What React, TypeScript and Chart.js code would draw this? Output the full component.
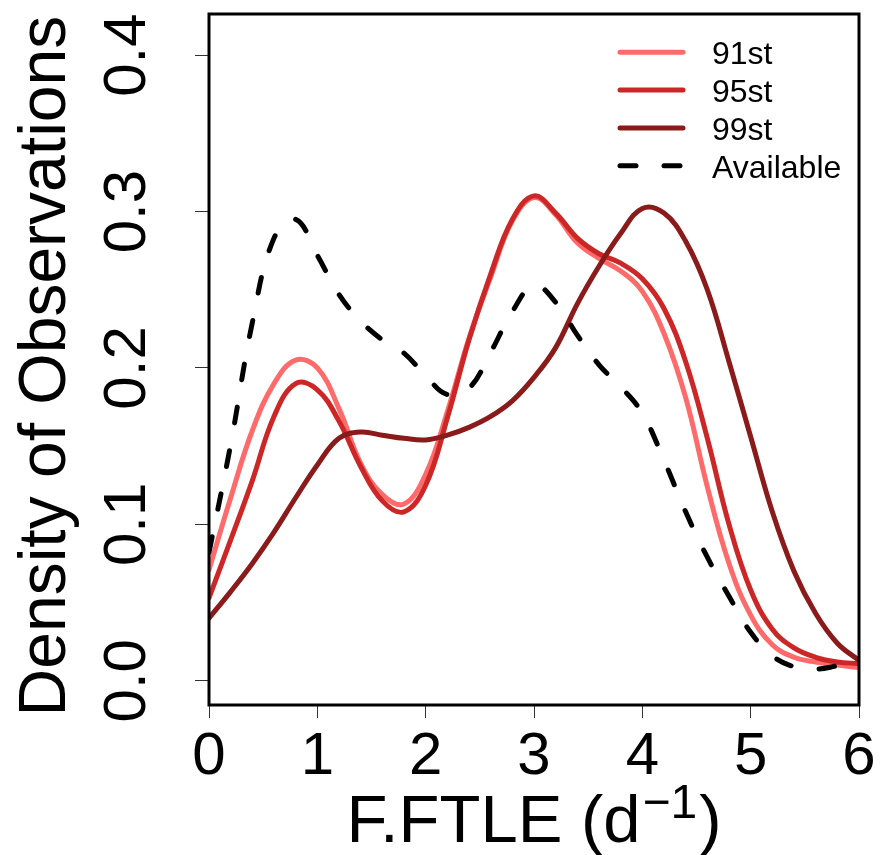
import { useEffect, useRef } from "react";
import { Chart, registerables } from "chart.js";

Chart.register(...registerables);

const FONT = '"Liberation Sans", Arial, Helvetica, sans-serif';

const xValues = [0, 0.2, 0.4, 0.6, 0.8, 1.0, 1.2, 1.4, 1.6, 1.8, 2.0, 2.2, 2.4, 2.6, 2.8, 3.0, 3.2, 3.4, 3.6, 3.8, 4.0, 4.2, 4.4, 4.6, 4.8, 5.0, 5.2, 5.4, 5.6, 5.8, 6.0];

const seriesLabels = ["91st", "95st", "99st", "Available"];

const p91 = [0.071, 0.117, 0.16, 0.19, 0.205, 0.2, 0.174, 0.139, 0.119, 0.113, 0.132, 0.172, 0.219, 0.258, 0.294, 0.309, 0.298, 0.28, 0.27, 0.262, 0.249, 0.222, 0.181, 0.124, 0.075, 0.042, 0.023, 0.015, 0.012, 0.01, 0.0085];
const p95 = [0.053, 0.09, 0.128, 0.169, 0.19, 0.186, 0.166, 0.137, 0.115, 0.108, 0.125, 0.168, 0.218, 0.26, 0.295, 0.31, 0.299, 0.283, 0.273, 0.267, 0.257, 0.238, 0.204, 0.155, 0.1, 0.058, 0.033, 0.021, 0.015, 0.012, 0.011];
const p99 = [0.04, 0.057, 0.075, 0.095, 0.117, 0.138, 0.155, 0.159, 0.157, 0.155, 0.154, 0.157, 0.162, 0.169, 0.179, 0.194, 0.213, 0.241, 0.265, 0.286, 0.302, 0.299, 0.281, 0.25, 0.204, 0.156, 0.108, 0.07, 0.043, 0.024, 0.013];
const available = [0.082, 0.151, 0.229, 0.283, 0.295, 0.272, 0.247, 0.23, 0.218, 0.2095, 0.195, 0.183, 0.187, 0.21, 0.236, 0.253, 0.242, 0.221, 0.202, 0.188, 0.171, 0.141, 0.108, 0.079, 0.054, 0.031, 0.016, 0.009, 0.0075, 0.0095, 0.012];

const seriesValues = [p91, p95, p99, available];
const seriesColors = ["#FF6A6A", "#CD2626", "#8B1A1A", "#000000"];

const xTicks = [0, 1, 2, 3, 4, 5, 6];
const yTicks = [0, 0.1, 0.2, 0.3, 0.4];

const xTitleMain = "F.FTLE (d";
const xTitleSup = "\u22121";
const xTitleEnd = ")";
const yTitle = "Density of Observations\u2009";

const boxPlugin = {
  id: "rBox",
  afterDatasetsDraw(chart: any) {
    const { ctx, chartArea: a } = chart;
    ctx.save();
    ctx.lineWidth = 3;
    ctx.strokeStyle = "#000";
    ctx.setLineDash([]);
    ctx.strokeRect(a.left, a.top, a.right - a.left, a.bottom - a.top);
    ctx.restore();
  },
};

const legendPlugin = {
  id: "insideLegend",
  afterDraw(chart: any) {
    const { ctx, chartArea } = chart;
    ctx.save();
    chart.data.datasets.forEach((ds: any, i: number) => {
      const y = chartArea.top + 38.3 + i * 37.8;
      const x0 = chartArea.right - 239;
      const x1 = chartArea.right - 176;
      ctx.beginPath();
      ctx.setLineDash(ds.borderDash || []);
      ctx.lineCap = "round";
      ctx.lineWidth = ds.borderWidth;
      ctx.strokeStyle = ds.borderColor;
      ctx.moveTo(x0, y);
      ctx.lineTo(x1, y);
      ctx.stroke();
      ctx.setLineDash([]);
      ctx.fillStyle = "#000";
      ctx.font = `32px ${FONT}`;
      ctx.textBaseline = "alphabetic";
      ctx.textAlign = "left";
      ctx.fillText(ds.label, chartArea.right - 147, y + 12);
    });
    ctx.restore();
  },
};

const xTitlePlugin = {
  id: "xTitleSup",
  afterDraw(chart: any) {
    const { ctx, chartArea } = chart;
    const cx = (chartArea.left + chartArea.right) / 2;
    const baseY = chart.height - 13;
    const mainFont = `67px ${FONT}`;
    const supFont = `48px ${FONT}`;
    ctx.save();
    ctx.fillStyle = "#000";
    ctx.textBaseline = "alphabetic";
    ctx.textAlign = "left";
    ctx.font = mainFont;
    const w1 = ctx.measureText(xTitleMain).width;
    const w3 = ctx.measureText(xTitleEnd).width;
    ctx.font = supFont;
    const w2 = ctx.measureText(xTitleSup).width + 4;
    let x = cx - (w1 + w2 + w3) / 2;
    ctx.font = mainFont;
    ctx.fillText(xTitleMain, x, baseY);
    x += w1;
    ctx.font = supFont;
    ctx.fillText(xTitleSup, x + 2, baseY - 24);
    x += w2;
    ctx.font = mainFont;
    ctx.fillText(xTitleEnd, x, baseY);
    ctx.restore();
  },
};

export default function App() {
  const canvasRef = useRef<HTMLCanvasElement | null>(null);

  useEffect(() => {
    if (!canvasRef.current) return;
    const datasets = seriesLabels.map((label, i) => ({
      label,
      data: xValues.map((x, j) => ({ x, y: seriesValues[i][j] })),
      borderColor: seriesColors[i],
      backgroundColor: seriesColors[i],
      borderWidth: 5,
      borderDash: i === 3 ? [16, 28] : [],
      borderCapStyle: "round" as const,
      borderJoinStyle: "round" as const,
      pointRadius: 0,
      tension: 0.4,
      fill: false,
      order: 4 - i,
    }));

    const chart = new Chart(canvasRef.current, {
      type: "line",
      data: { datasets },
      options: {
        animation: false,
        responsive: false,
        events: [],
        layout: { padding: { left: 0, top: 14, right: 22, bottom: 0 } },
        plugins: {
          legend: { display: false },
          tooltip: { enabled: false },
        },
        scales: {
          x: {
            type: "linear",
            min: 0,
            max: 6,
            afterBuildTicks: (s: any) => {
              s.ticks = xTicks.map((v) => ({ value: v }));
            },
            afterFit: (s: any) => {
              s.height = 150;
              s.paddingLeft = 0;
              s.paddingRight = 0;
            },
            grid: { display: true, drawOnChartArea: false, drawTicks: true, tickLength: 13, color: "#333", lineWidth: 1 },
            border: { display: false },
            ticks: {
              color: "#000",
              font: { family: FONT, size: 60 },
              padding: 3,
              maxRotation: 0,
              autoSkip: false,
              callback: (v: any) => String(v),
            },
            title: { display: false },
          },
          y: {
            type: "linear",
            min: -0.0155,
            max: 0.4263,
            afterBuildTicks: (s: any) => {
              s.ticks = yTicks.map((v) => ({ value: v }));
            },
            afterFit: (s: any) => {
              s.width = 209;
              s.paddingTop = 0;
              s.paddingBottom = 0;
            },
            grid: { display: true, drawOnChartArea: false, drawTicks: true, tickLength: 14, color: "#333", lineWidth: 1 },
            border: { display: false },
            ticks: {
              color: "#000",
              font: { family: FONT, size: 60 },
              padding: 25,
              minRotation: 90,
              maxRotation: 90,
              crossAlign: "center",
              autoSkip: false,
              callback: (v: any) => Number(v).toFixed(1),
            },
            title: {
              display: true,
              text: yTitle,
              color: "#000",
              font: { family: FONT, size: 66, lineHeight: 1 },
              padding: { top: 14, bottom: 0 },
            },
          },
        },
      },
      plugins: [boxPlugin, legendPlugin, xTitlePlugin],
    } as any);

    return () => chart.destroy();
  }, []);

  return (
    <div style={{ position: "absolute", left: 0, top: 0, width: 881, height: 855, background: "#fff" }}>
      <canvas ref={canvasRef} width={881} height={855} style={{ display: "block" }} />
    </div>
  );
}
